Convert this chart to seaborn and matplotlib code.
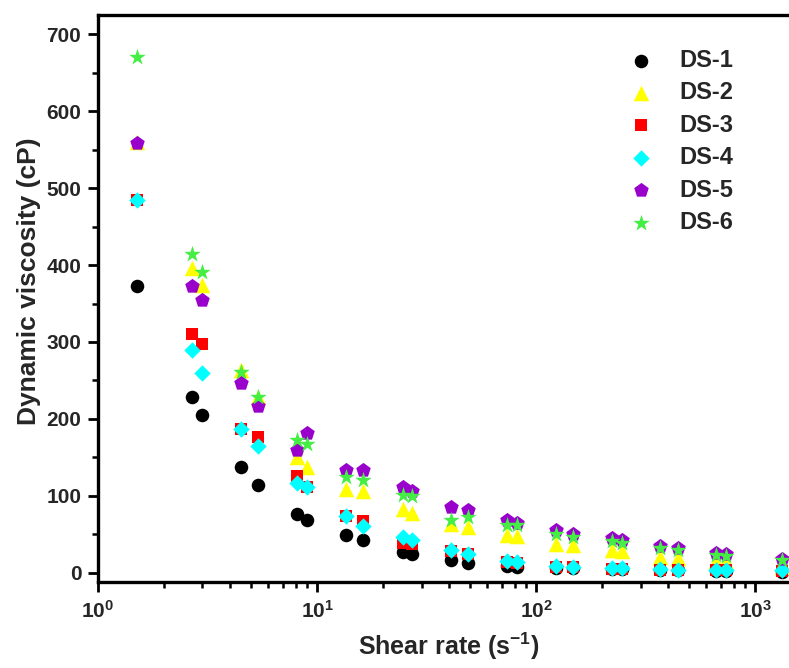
import numpy as np
import pandas as pd
import seaborn as sns
import matplotlib
matplotlib.use("Agg")
import matplotlib.pyplot as plt

# shear rate (1/s) and viscosity (cP)
shear_rate = [1.5, 2.7, 3.0, 4.5, 5.4, 8.1, 9.0, 13.6, 16.3, 24.6, 27.2, 41, 49,
              74, 82, 123, 147, 222, 246, 370, 444, 666, 740, 1330]
ds1 = [373, 228, 205, 137, 114, 77, 68, 49, 42, 27, 25, 16, 13, 9, 8, 6, 6, 5, 5, 3, 3, 2, 2, 1]
ds2 = [560, 396, 374, 263, 229, 151, 138, 109, 106, 83, 78, 64, 60, 49, 48, 38, 36, 30, 28, 21, 19, 15, 14, 7]
ds3 = [484, 310, 298, 187, 176, 126, 112, 74, 67, 39, 37, 28, 24, 14, 13, 8, 7, 5, 5, 4, 3, 3, 3, 2]
ds4 = [484, 289, 260, 187, 165, 117, 112, 74, 61, 47, 43, 29, 25, 15, 14, 9, 8, 6, 6, 5, 4, 4, 4, 3]
ds5 = [559, 373, 354, 247, 217, 160, 182, 134, 133, 112, 106, 85, 82, 69, 65, 56, 50, 45, 43, 35, 32, 26, 25, 18]
ds6 = [670, 414, 391, 261, 229, 173, 168, 125, 121, 101, 100, 68, 72, 62, 62, 51, 47, 41, 39, 32, 29, 23, 22, 16]

labels = ["DS-1", "DS-2", "DS-3", "DS-4", "DS-5", "DS-6"]
series = [ds1, ds2, ds3, ds4, ds5, ds6]
colors = ["#000000", "#FFFF00", "#FF0000", "#00FFFF", "#9900CC", "#44EE44"]
markers = ["o", "^", "s", "D", "p", "*"]
sizes = [95, 125, 80, 70, 120, 155]

sns.set_style("ticks")
plt.rcParams["font.family"] = ["Liberation Sans", "DejaVu Sans"]
plt.rcParams["font.weight"] = "bold"
plt.rcParams["axes.labelweight"] = "bold"
plt.rcParams["mathtext.fontset"] = "custom"
plt.rcParams["mathtext.rm"] = "Liberation Sans:bold"
plt.rcParams["mathtext.bf"] = "Liberation Sans:bold"
plt.rcParams["mathtext.it"] = "Liberation Sans:bold:italic"
plt.rcParams["mathtext.default"] = "rm"

fig = plt.figure(figsize=(7.89, 6.68), dpi=100)
ax = fig.add_axes([98 / 789, 1 - 582 / 668, (800 - 98) / 789, (582 - 15) / 668])

for lab, vals, c, m, s in zip(labels, series, colors, markers, sizes):
    df = pd.DataFrame({"rate": shear_rate, "visc": vals})
    sns.scatterplot(data=df, x="rate", y="visc", ax=ax, marker=m, color=c, s=s,
                    linewidth=0, label=lab, clip_on=False)

ax.set_xscale("log")
ax.set_xlim(1, 1604)
ax.set_ylim(-12, 725)
ax.set_yticks(np.arange(0, 701, 100))
ax.set_yticks(np.arange(50, 701, 100), minor=True)

for side in ["left", "bottom", "top"]:
    ax.spines[side].set_linewidth(2.4)
    ax.spines[side].set_color("black")
ax.spines["right"].set_visible(False)

ax.tick_params(axis="both", which="major", direction="out", length=7, width=2,
               labelsize=15, pad=5, top=False, right=False, color="black")
ax.tick_params(axis="x", which="major", labelsize=15, pad=6)
ax.tick_params(axis="both", which="minor", direction="out", length=4, width=1.8,
               top=False, right=False, color="black")
for t in ax.get_yticklabels():
    t.set_fontweight("bold")

ax.set_xlabel("Shear rate (s$^{-1}$)", fontsize=18, fontweight="bold", labelpad=6)
ax.set_ylabel("Dynamic viscosity (cP)", fontsize=19, fontweight="bold")
ax.yaxis.set_label_coords(-0.081, 0.53)

leg = ax.legend(loc="upper left", bbox_to_anchor=(0.71, 0.978), frameon=False,
                prop={"weight": "bold", "size": 17}, labelspacing=0.4,
                handletextpad=0.6, markerscale=1.0)

fig.savefig("out.png", dpi=100)
